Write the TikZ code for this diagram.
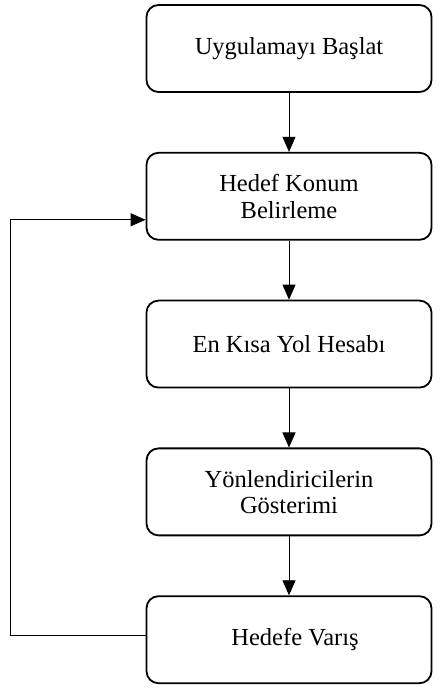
\documentclass[tikz,border=0pt]{standalone}
\usepackage{fontspec}
\setmainfont{Liberation Serif}
\usepackage{tikz}
\usetikzlibrary{positioning,arrows.meta}

\begin{document}
\begin{tikzpicture}[box/.style={rectangle,draw,line width=1.8pt,rounded corners=12pt,minimum width=285pt,minimum height=87pt,align=center,font=\fontsize{24.5}{26.5}\selectfont}, node distance=59pt, flow/.style={draw,-{Triangle[length=15pt,width=13pt]},line width=0.9pt}]
	\useasboundingbox (0,0) rectangle (441pt,690pt);
	\node[box] (start) at (289pt,641.5pt) {Uygulamayı Başlat};
	\node[box,below = of start] (hedef) {Hedef Konum\\Belirleme};
	\node[box,below = of hedef] (yol) {En Kısa Yol Hesabı};
	\node[box,below = of yol] (yon) {Yönlendiricilerin\\Gösterimi};
	\node[box,below = of yon] (varis) {\hspace*{12pt}Hedefe Varış};
	\draw[flow] (start) -- (hedef);
	\draw[flow] (hedef) -- (yol);
	\draw[flow] (yol) -- (yon);
	\draw[flow] (yon) -- (varis);
	% back to the target step
	\draw[flow] ([yshift=4pt]varis.west) -- ++(-135pt,0) |- ([yshift=-23.5pt]hedef.west);
\end{tikzpicture}
\end{document}
